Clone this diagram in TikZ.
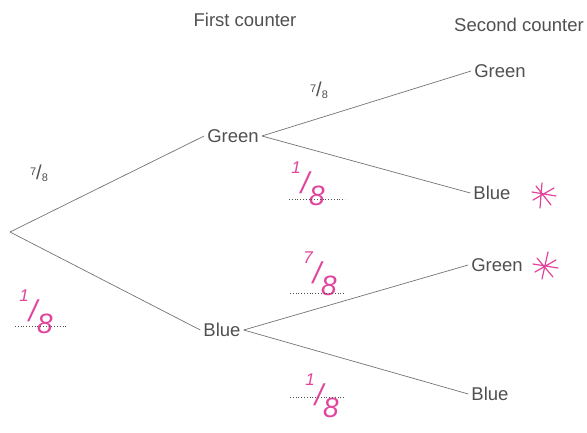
\documentclass[tikz,border=0pt]{standalone}
\usepackage{fontspec}
\setmainfont{Liberation Sans}
\definecolor{ink}{HTML}{505050}
\definecolor{pen}{HTML}{E0449C}
\newcommand{\pfrac}[2]{\raisebox{4pt}{\fontsize{11}{12}\selectfont #1}{\fontsize{20}{20}\selectfont/}\raisebox{-2pt}{\fontsize{11}{12}\selectfont #2}}
\newcommand{\hfrac}[2]{\raisebox{20pt}{\fontsize{17}{17}\selectfont #1}{\fontsize{30}{30}\selectfont/}\raisebox{-12pt}{\fontsize{28}{28}\selectfont #2}}
\begin{document}
\begin{tikzpicture}[x=1pt,y=-1pt,
  lbl/.style={text=ink,font=\fontsize{18.5}{20}\selectfont,inner sep=3pt},
  branch/.style={draw=ink!80,line width=0.7pt},
  pfr/.style={text=ink},
  hw/.style={text=pen,font=\itshape},
  dotl/.style={draw=ink,dotted,line width=0.8pt},
  star/.style={draw=pen,line width=1.2pt,line cap=round}]
\useasboundingbox (0,0) rectangle (587,432);
% headers
\node[lbl] (h1) at (245,20) {First counter};
\node[lbl] (h2) at (519,25) {Second counter};
% nodes
\coordinate (r) at (10,232);
\node[lbl] (g1) at (233,136) {Green};
\node[lbl] (b1) at (222,330) {Blue};
\node[lbl] (gg) at (500,71) {Green};
\node[lbl] (gb) at (492,193) {Blue};
\node[lbl] (bg) at (497,265) {Green};
\node[lbl] (bb) at (490,394) {Blue};
% branches
\draw[branch] (r) -- (g1.west);
\draw[branch] (r) -- (b1.west);
\draw[branch] (g1.east) -- (gg.west);
\draw[branch] (g1.east) -- (gb.west);
\draw[branch] (b1.east) -- (bg.west);
\draw[branch] (b1.east) -- (bb.west);
% printed fractions
\node[pfr] (f1) at (39,173) {\pfrac{7}{8}};
\node[pfr] (f2) at (319,90) {\pfrac{7}{8}};
% handwritten fractions with dotted answer lines
\node[hw] (w1) at (36,312) {\hfrac{1}{8}};
\draw[dotl] (15,326) -- (68,326);
\node[hw] (w2) at (308,184) {\hfrac{1}{8}};
\draw[dotl] (289,199) -- (345,199);
\node[hw] (w3) at (320,274) {\hfrac{7}{8}};
\draw[dotl] (290,293) -- (345,293);
\node[hw] (w4) at (322,396) {\hfrac{1}{8}};
\draw[dotl] (290,397) -- (345,397);
% stars
\draw[star] (533,200) -- (554,188) (532,192) -- (556,196) (542,183) -- (540,208) (536,186) -- (551,205);
\draw[star] (535,272) -- (556,260) (533,264) -- (558,268) (548,252) -- (542,279) (537,258) -- (553,277);
\end{tikzpicture}
\end{document}
